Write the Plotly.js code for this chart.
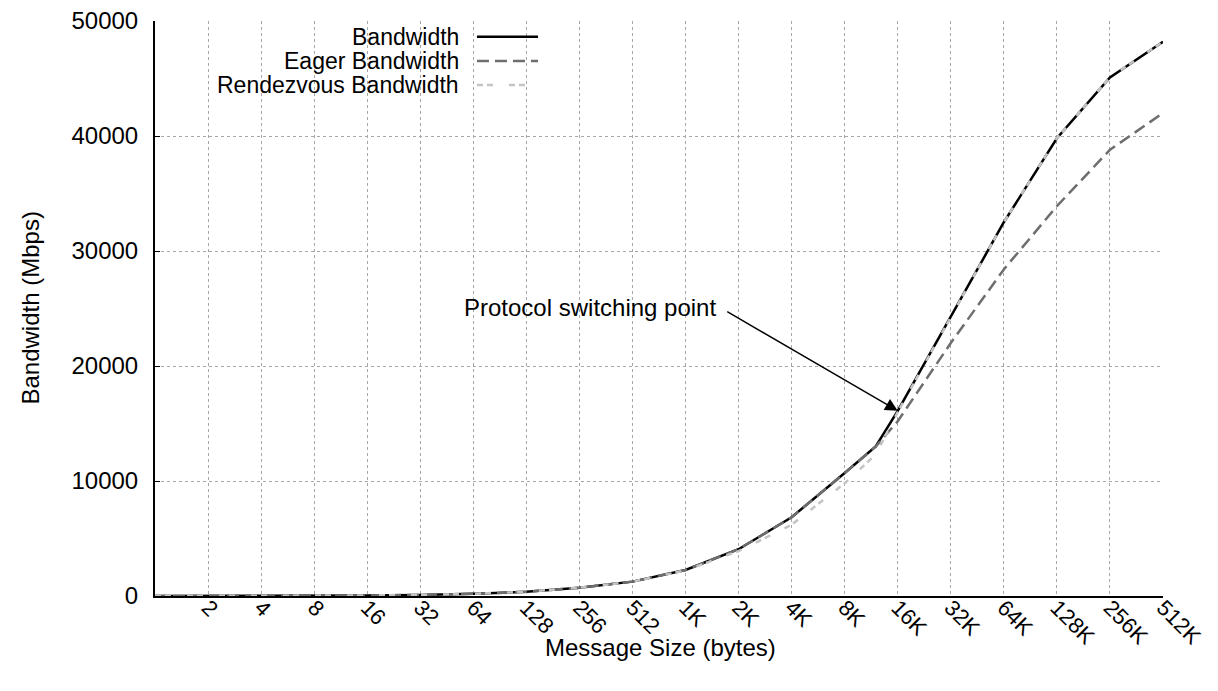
<!DOCTYPE html>
<html>
<head>
<meta charset="utf-8">
<script src="https://cdn.plot.ly/plotly-3.0.1.min.js"></script>
<style>
  html, body { margin: 0; padding: 0; background: #fff; }
  #chart { width: 1218px; height: 691px; }
</style>
</head>
<body>
<div id="chart"></div>
<script>
// Message sizes in bytes (powers of two, plus the 12K switching measurement)
const messageSizes = [1, 2, 4, 8, 16, 32, 64, 128, 256, 512, 1024, 2048, 4096, 8192, 12288, 16384, 32768, 65536, 131072, 262144, 524288];

// Bandwidth (Mbps)
const bandwidth = [3, 6, 12, 24, 48, 95, 190, 370, 720, 1250, 2260, 4070, 6850, 10700, 13000, 16100, 24300, 32500, 39800, 45100, 48200];
const eagerBandwidth = [3, 6, 12, 24, 48, 95, 190, 370, 720, 1250, 2260, 4070, 6850, 10700, 13000, 15200, 22000, 28400, 33900, 38800, 42000];
const rendezvousBandwidth = [3, 6, 12, 24, 48, 95, 190, 370, 720, 1240, 2230, 3900, 6200, 9800, 12300, 16000, 24300, 32500, 39800, 45100, 48200];

// Axis ticks
const xTickValues = [2, 4, 8, 16, 32, 64, 128, 256, 512, 1024, 2048, 4096, 8192, 16384, 32768, 65536, 131072, 262144, 524288];
const xTickLabels = ['2', '4', '8', '16', '32', '64', '128', '256', '512', '1K', '2K', '4K', '8K', '16K', '32K', '64K', '128K', '256K', '512K'];
const yTickValues = [0, 10000, 20000, 30000, 40000, 50000];

const seriesNames = ['Bandwidth', 'Eager Bandwidth', 'Rendezvous Bandwidth'];
const xTitle = 'Message Size (bytes)';
const yTitle = 'Bandwidth (Mbps)';
const annotationText = 'Protocol switching point';
const switchSize = 16384;

const FONT = 'Liberation Sans, Arial, Helvetica, sans-serif';
const styles = [
  {color: '#000000', width: 2.5, dash: 'solid'},
  {color: '#6e6e6e', width: 2.5, dash: '12px,6px'},
  {color: '#c4c4c4', width: 2.5, dash: '6px,4px,6px,16px'}
];
const seriesData = [bandwidth, eagerBandwidth, rendezvousBandwidth];

const traces = seriesData.map((ys, i) => ({
  x: messageSizes,
  y: ys,
  type: 'scatter',
  mode: 'lines',
  name: seriesNames[i],
  line: {color: styles[i].color, width: styles[i].width, dash: styles[i].dash},
  showlegend: false,
  hoverinfo: 'x+y+name'
}));

// custom legend (text right-aligned, sample line on the right)
const legendRowsY = [0.9727, 0.9304, 0.8887];
const annotations = seriesNames.map((n, i) => ({
  xref: 'paper', yref: 'paper', x: 0.3036, y: legendRowsY[i],
  xanchor: 'right', yanchor: 'middle', text: n, showarrow: false,
  font: {family: FONT, size: 23, color: '#000'}
}));
const shapes = [{
  type: 'rect', xref: 'paper', yref: 'paper', x0: 0.0099, x1: 0.387, y0: 0.8696, y1: 0.9913,
  fillcolor: '#ffffff', line: {width: 0}, layer: 'between'
}];
seriesNames.forEach((n, i) => {
  shapes.push({
    type: 'line', xref: 'paper', yref: 'paper', x0: 0.3194, x1: 0.3800,
    y0: legendRowsY[i], y1: legendRowsY[i],
    line: {color: styles[i].color, width: styles[i].width, dash: styles[i].dash}, layer: 'above'
  });
});

// arrow to the switching point
const swIdx = messageSizes.indexOf(switchSize);
annotations.push({
  x: Math.log10(messageSizes[swIdx]), y: bandwidth[swIdx], xref: 'x', yref: 'y',
  text: '', showarrow: true, arrowhead: 2, arrowsize: 1.8, arrowwidth: 1.4, arrowcolor: '#000',
  ax: -172, ay: -100, standoff: 0
});
annotations.push({
  xref: 'paper', yref: 'paper', x: 0.5585, y: 0.5026, xanchor: 'right', yanchor: 'middle',
  text: annotationText, showarrow: false, font: {family: FONT, size: 24, color: '#000'}
});
// axis titles
annotations.push({
  xref: 'paper', yref: 'paper', x: 0.501, y: -0.0904, xanchor: 'center', yanchor: 'middle',
  text: xTitle, showarrow: false, font: {family: FONT, size: 24, color: '#000'}
});
annotations.push({
  xref: 'paper', yref: 'paper', x: -0.124, y: 0.5, xanchor: 'center', yanchor: 'middle',
  text: yTitle, textangle: -90, showarrow: false, font: {family: FONT, size: 24, color: '#000'}
});

const layout = {
  width: 1218, height: 691,
  margin: {l: 155, r: 55, t: 21, b: 95},
  paper_bgcolor: '#ffffff', plot_bgcolor: '#ffffff',
  font: {family: FONT, size: 24, color: '#000'},
  showlegend: false,
  xaxis: {
    type: 'log',
    range: [0, Math.log10(524288)],
    tickmode: 'array', tickvals: xTickValues, ticktext: xTickLabels,
    tickangle: 45,
    ticklabelstandoff: -12,
    showgrid: true, gridcolor: '#a8a8a8', griddash: 'dot', gridwidth: 1,
    showline: true, linecolor: '#000', linewidth: 2,
    ticks: '', zeroline: false,
    tickfont: {family: FONT, size: 22, color: '#000'}
  },
  yaxis: {
    range: [0, 50000],
    tickmode: 'array', tickvals: yTickValues, tickformat: 'd',
    showgrid: true, gridcolor: '#a8a8a8', griddash: 'dot', gridwidth: 1,
    showline: true, linecolor: '#000', linewidth: 2,
    ticks: 'inside', ticklen: 5, tickcolor: '#000',
    ticklabelstandoff: 10,
    zeroline: false,
    tickfont: {family: FONT, size: 24, color: '#000'}
  },
  annotations: annotations,
  shapes: shapes
};

Plotly.newPlot('chart', traces, layout, {displayModeBar: false, staticPlot: true});
</script>
</body>
</html>
